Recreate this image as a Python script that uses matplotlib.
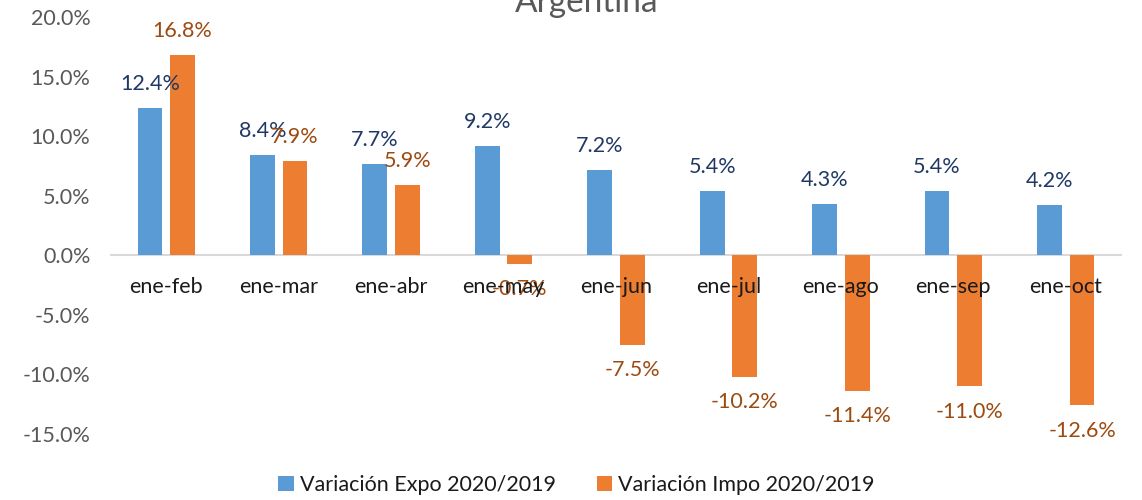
import matplotlib.pyplot as plt
import numpy as np

plt.rcParams['font.family'] = ['Lato', 'DejaVu Sans']

categories = ['ene-feb', 'ene-mar', 'ene-abr', 'ene-may', 'ene-jun',
              'ene-jul', 'ene-ago', 'ene-sep', 'ene-oct']
expo = [12.4, 8.4, 7.7, 9.2, 7.2, 5.4, 4.3, 5.4, 4.2]
impo = [16.8, 7.9, 5.9, -0.7, -7.5, -10.2, -11.4, -11.0, -12.6]

BLUE = '#5B9BD5'
ORANGE = '#ED7D31'
BLUE_TXT = '#1F3864'
ORANGE_TXT = '#9C4A10'
FS = 15.5

fig = plt.figure(figsize=(11.42, 5.0), dpi=100)
ax = fig.add_axes([0.0963, 0.132, 0.8862, 0.834])

x = np.arange(len(categories))
w = 0.22
off = 0.145
ax.bar(x - off, expo, w, color=BLUE, label='Variación Expo 2020/2019')
ax.bar(x + off, impo, w, color=ORANGE, label='Variación Impo 2020/2019')

def put_label(xx, v, color):
    if v >= 0:
        ax.annotate(f'{v:.1f}%', (xx, v), xytext=(0, 10), textcoords='offset points',
                    ha='center', va='bottom', fontsize=FS, color=color)
    else:
        ax.annotate(f'{v:.1f}%', (xx, v), xytext=(0, -11), textcoords='offset points',
                    ha='center', va='top', fontsize=FS, color=color)

for i in range(len(categories)):
    put_label(x[i] - off, expo[i], BLUE_TXT)
    put_label(x[i] + off, impo[i], ORANGE_TXT)
    ax.annotate(categories[i], (x[i], 0), xytext=(0, -23), textcoords='offset points',
                ha='center', va='center', fontsize=FS, color='#1a1a1a')

ax.axhline(0, color='#D9D9D9', lw=1.5, zorder=0)
ax.set_xlim(-0.5, len(categories) - 0.5)
ax.set_ylim(-15, 20)
ax.set_yticks(np.arange(-15, 21, 5))
ax.set_yticklabels([f'{t:.1f}%' for t in np.arange(-15, 21, 5)])
ax.tick_params(axis='y', length=0, labelsize=FS, labelcolor='#595959', pad=14)
ax.set_xticks([])
for s in ax.spines.values():
    s.set_visible(False)

fig.text(0.514, 0.995, 'Argentina', ha='center', va='center', fontsize=24, color='#595959')

fig.legend(loc='center', bbox_to_anchor=(0.505, 0.03), ncol=2, frameon=False,
           fontsize=FS, handlelength=0.7, handleheight=0.7, handletextpad=0.3,
           columnspacing=1.9, labelcolor='#1a1a1a')

fig.savefig('out.png')
